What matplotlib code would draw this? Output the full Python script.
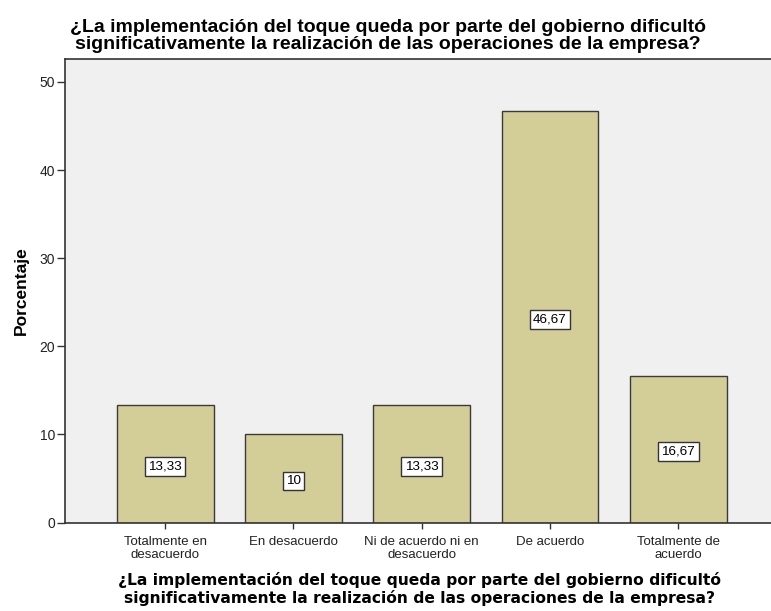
import matplotlib.pyplot as plt

categorias = ["Totalmente en\ndesacuerdo", "En desacuerdo", "Ni de acuerdo ni en\ndesacuerdo",
              "De acuerdo", "Totalmente de\nacuerdo"]
porcentajes = [13.33, 10.0, 13.33, 46.67, 16.67]
etiquetas = ["13,33", "10", "13,33", "46,67", "16,67"]
yticks = [0, 10, 20, 30, 40, 50]

titulo = ("¿La implementación del toque queda por parte del gobierno dificultó\n"
          "significativamente la realización de las operaciones de la empresa?")

W, H = 771, 611
fig = plt.figure(figsize=(W / 100, H / 100), dpi=100)
fig.patch.set_facecolor("white")
ax = fig.add_axes([65 / W, (H - 522.5) / H, (772 - 65) / W, (522.5 - 59) / H])
ax.set_facecolor("#f0f0f0")

x = list(range(len(categorias)))
ax.bar(x, porcentajes, width=0.755, color="#d3ce98", edgecolor="#3a3a3a", linewidth=1.0, zorder=2)

# etiquetas de valor en cajas blancas, a media altura de cada barra
for xi, v, t in zip(x, porcentajes, etiquetas):
    ax.text(xi, v / 2 - 0.3, t, ha="center", va="center", fontsize=9.7,
            family="Liberation Sans", zorder=3,
            bbox=dict(boxstyle="square,pad=0.25", facecolor="white", edgecolor="#333333", linewidth=1.0))

ax.set_xlim(-0.78, 4.73)
ax.set_ylim(0, 52.6)
ax.set_yticks(yticks)
ax.set_xticks(x)
ax.set_xticklabels(categorias, fontsize=9.5, family="Liberation Sans", linespacing=1.1)
ax.tick_params(axis="y", labelsize=10, length=6, width=1, color="#333333", pad=1, labelcolor="#222222")
ax.tick_params(axis="x", length=4.5, width=1, color="#333333", pad=5, labelcolor="#222222")
for lbl in ax.get_yticklabels():
    lbl.set_family("Liberation Sans")

for s in ["left", "bottom", "top"]:
    ax.spines[s].set_color("#333333")
    ax.spines[s].set_linewidth(1.2)
ax.spines["right"].set_visible(False)

ax.set_ylabel("Porcentaje", fontsize=12.5, fontweight="bold", family="Liberation Sans")
ax.yaxis.set_label_coords((29 - 65) / (772 - 65), 0.5)

fig.text(388 / W, 1 - 36 / H, titulo, ha="center", va="center", fontsize=14,
         family="Liberation Sans", fontweight="bold", linespacing=1.05)
fig.text(420 / W, 1 - 589 / H, titulo, ha="center", va="center", fontsize=11.2,
         family="DejaVu Sans", fontweight="bold", linespacing=1.08)

fig.savefig("out.png", dpi=100)
